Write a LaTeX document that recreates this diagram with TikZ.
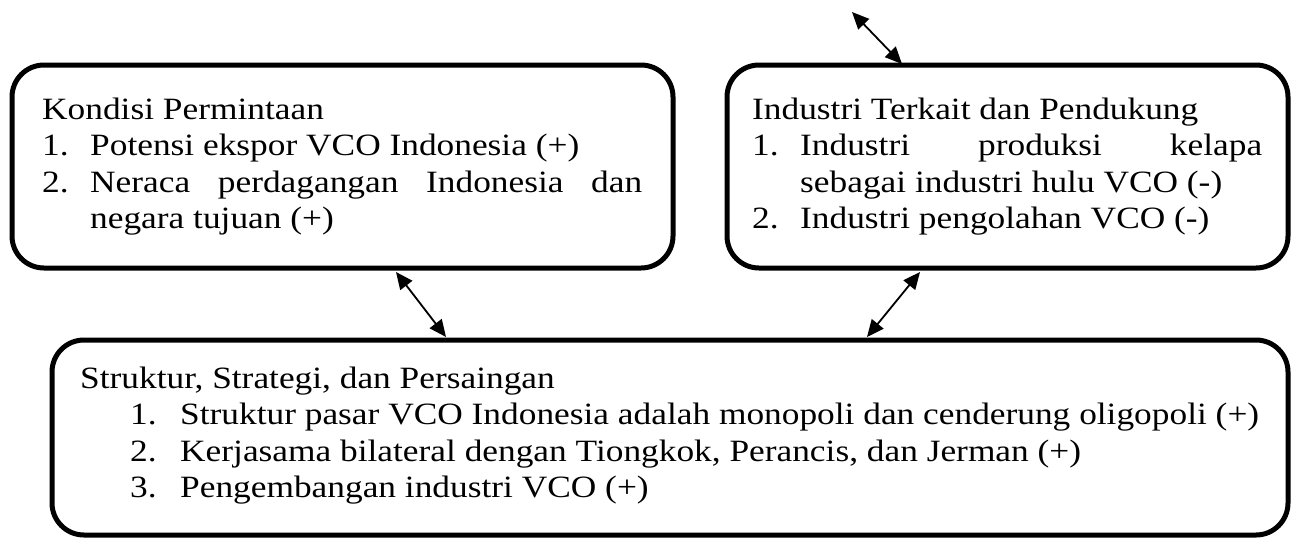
\documentclass[tikz,border=0pt]{standalone}
\usepackage{fontspec}
\setmainfont{Liberation Serif}[FakeStretch=1.14]
\usetikzlibrary{arrows.meta}
\begin{document}
\begin{tikzpicture}[x=1pt,y=-1pt,
  box/.style={draw, line width=5pt, rounded corners=32pt, inner sep=0pt},
  txt/.style={anchor=base west, inner sep=0pt, font=\fontsize{31}{36}\selectfont},
  link/.style={line width=1.8pt, {Triangle[length=17pt,width=15pt]}-{Triangle[length=17pt,width=15pt]}}]
\useasboundingbox (0,0) rectangle (1303,539);
% boxes
\node[box, minimum width=661pt, minimum height=203pt] (demand) at (342.5,166.5) {};
\node[box, minimum width=561pt, minimum height=203pt] (related) at (1007.5,166.5) {};
\node[box, minimum width=1236pt, minimum height=195pt] (strategy) at (670,437.5) {};
% box 1 text
\node[txt] (d0) at (42,119) {Kondisi Permintaan};
\node[txt] (d1n) at (42,155.5) {1.};
\node[txt] (d1) at (90,155.5) {Potensi ekspor VCO Indonesia (+)};
\node[txt] (d2n) at (42,192) {2.};
\node[txt] (d2) at (90,192) {\hbox to 552pt{Neraca\hfill perdagangan\hfill Indonesia\hfill dan}};
\node[txt] (d2b) at (90,228.5) {negara tujuan (+)};
% box 2 text
\node[txt] (r0) at (752,119) {Industri Terkait dan Pendukung};
\node[txt] (r1n) at (752,155.5) {1.};
\node[txt] (r1) at (800,155.5) {\hbox to 462pt{Industri\hfill produksi\hfill kelapa}};
\node[txt] (r1b) at (800,192) {sebagai industri hulu VCO (-)};
\node[txt] (r2n) at (752,228.5) {2.};
\node[txt] (r2) at (800,228.5) {Industri pengolahan VCO (-)};
% box 3 text
\node[txt] (s0) at (80,388) {Struktur, Strategi, dan Persaingan};
\node[txt] (s1n) at (130,424.5) {1.};
\node[txt] (s1) at (180,424.5) {Struktur pasar VCO Indonesia adalah monopoli dan cenderung oligopoli (+)};
\node[txt] (s2n) at (130,461) {2.};
\node[txt] (s2) at (180,461) {Kerjasama bilateral dengan Tiongkok, Perancis, dan Jerman (+)};
\node[txt] (s3n) at (130,497.5) {3.};
\node[txt] (s3) at (180,497.5) {Pengembangan industri VCO (+)};
% connectors
\coordinate (top) at (852,12);
\coordinate (topend) at (902,64);
\coordinate (a1) at (396,272);
\coordinate (a2) at (446,337);
\coordinate (b1) at (920,272);
\coordinate (b2) at (867,337);
\draw[link] (top) -- (topend);
\draw[link] (a1) -- (a2);
\draw[link] (b1) -- (b2);
\end{tikzpicture}
\end{document}
